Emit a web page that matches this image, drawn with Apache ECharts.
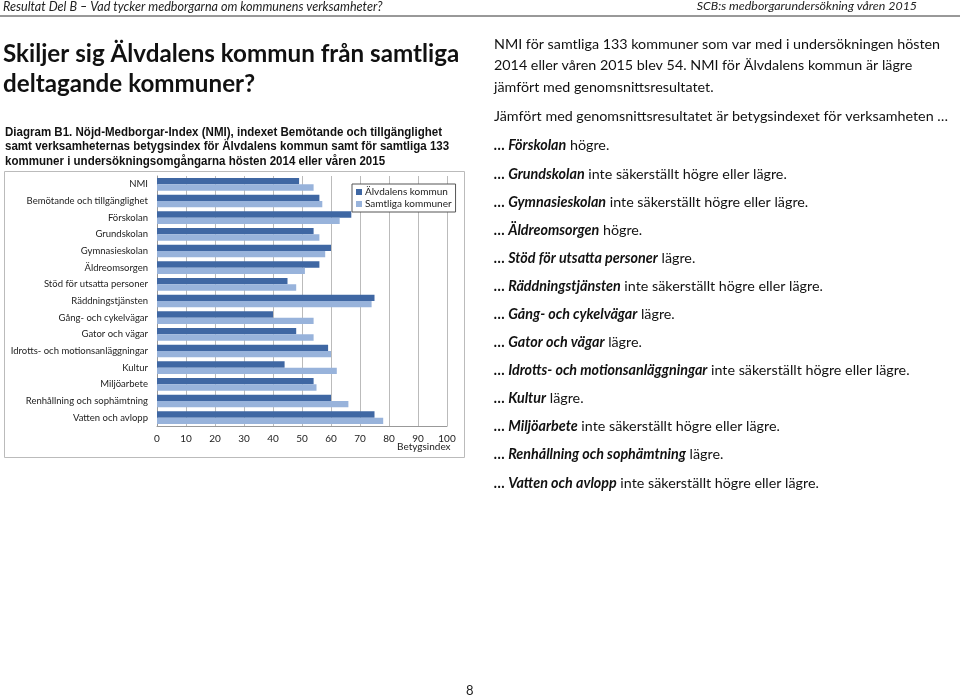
<!DOCTYPE html>
<html><head><meta charset="utf-8">
<script src="https://cdn.jsdelivr.net/npm/echarts@6/dist/echarts.min.js"></script>
<style>html,body{margin:0;padding:0;background:#fff}#c{width:960px;height:699px}</style>
</head><body><div id="c"></div>
<script>
const categories = ['NMI','Bemötande och tillgänglighet','Förskolan','Grundskolan','Gymnasieskolan','Äldreomsorgen','Stöd för utsatta personer','Räddningstjänsten','Gång- och cykelvägar','Gator och vägar','Idrotts- och motionsanläggningar','Kultur','Miljöarbete','Renhållning och sophämtning','Vatten och avlopp'];
const alvdalen = [49,56,67,54,60,56,45,75,40,48,59,44,54,60,75];
const samtliga = [54,57,63,56,58,51,48,74,54,54,60,62,55,66,78];
const seriesNames = ['Älvdalens kommun','Samtliga kommuner'];
const xTicks = [0,10,20,30,40,50,60,70,80,90,100];

const bodyFont = 'Lato';
const rightLines = [
  ['NMI för samtliga 133 kommuner som var med i undersökningen hösten', 45],
  ['2014 eller våren 2015 blev 54. NMI för Älvdalens kommun är lägre', 66],
  ['jämfört med genomsnittsresultatet.', 88],
  ['Jämfört med genomsnittsresultatet är betygsindexet för verksamheten …', 117],
  ['{b|… Förskolan} högre.', 146],
  ['{b|… Grundskolan} inte säkerställt högre eller lägre.', 175],
  ['{b|… Gymnasieskolan} inte säkerställt högre eller lägre.', 203],
  ['{b|… Äldreomsorgen} högre.', 231],
  ['{b|… Stöd för utsatta personer} lägre.', 259],
  ['{b|… Räddningstjänsten} inte säkerställt högre eller lägre.', 287],
  ['{b|… Gång- och cykelvägar} lägre.', 315],
  ['{b|… Gator och vägar} lägre.', 343],
  ['{b|… Idrotts- och motionsanläggningar} inte säkerställt högre eller lägre.', 371],
  ['{b|… Kultur} lägre.', 399],
  ['{b|… Miljöarbete} inte säkerställt högre eller lägre.', 427],
  ['{b|… Renhållning och sophämtning} lägre.', 455],
  ['{b|… Vatten och avlopp} inte säkerställt högre eller lägre.', 484]
];
const captionLines = ['Diagram B1. Nöjd-Medborgar-Index (NMI), indexet Bemötande och tillgänglighet','samt verksamheternas betygsindex för Älvdalens kommun samt för samtliga 133','kommuner i undersökningsomgångarna hösten 2014 eller våren 2015'];

const graphics = [];
// header
graphics.push({type:'text', left:3, top:0, style:{text:'Resultat Del B – Vad tycker medborgarna om kommunens verksamheter?', font:'italic 12.6px '+bodyFont, fill:'#222'}});
graphics.push({type:'text', right:43, top:0, style:{text:'SCB:s medborgarundersökning våren 2015', font:'italic 12.4px '+bodyFont, fill:'#222'}});
graphics.push({type:'line', shape:{x1:0,y1:16,x2:960,y2:16}, style:{stroke:'#333', lineWidth:1}});
// title
graphics.push({type:'text', left:3, top:42, style:{text:'Skiljer sig Älvdalens kommun från samtliga', font:'bold 24.2px '+bodyFont, fill:'#111'}});
graphics.push({type:'text', left:3, top:72, style:{text:'deltagande kommuner?', font:'bold 24.2px '+bodyFont, fill:'#111'}});
// caption (condensed Arial-like)
const capFont = 'bold 12.5px "Liberation Sans", Arial, sans-serif';
const mctx = document.createElement('canvas').getContext('2d');
mctx.font = capFont;
const capScale = 437 / mctx.measureText(captionLines[0]).width;
captionLines.forEach((t,i)=>graphics.push({type:'text', x:5, y:132.5+i*14.5, scaleX:capScale, style:{text:t, font:capFont, fill:'#111', textVerticalAlign:'middle'}}));
// right text
rightLines.forEach(([t,y])=>graphics.push({type:'text', left:494, top:y-8, style:{text:t, font:'14.3px '+bodyFont, fill:'#111', rich:{b:{font:'italic bold 14.3px '+bodyFont, fill:'#111'}}}}));
// chart border
graphics.push({type:'rect', shape:{x:4.5,y:171.5,width:460,height:286}, style:{fill:'none', stroke:'#bbb', lineWidth:1}, z:-1});
// axis name
graphics.push({type:'text', left:397, top:442, style:{text:'Betygsindex', font:'10px '+bodyFont, fill:'#222'}});
// page number
graphics.push({type:'text', left:466, top:684, style:{text:'8', font:'13px '+bodyFont, fill:'#222'}});

const chart = echarts.init(document.getElementById('c'));
chart.setOption({
  animation:false,
  textStyle:{fontFamily:bodyFont},
  grid:{left:157, right:513, top:176, height:250},
  legend:{orient:'vertical', left:352, top:184, itemWidth:6, itemHeight:6, itemGap:2, padding:[3,4,3,4],
    borderColor:'#555', borderWidth:1, backgroundColor:'#fff', textStyle:{fontSize:10, color:'#222', padding:[0,0,0,-2]},
    icon:'rect', data:seriesNames},
  xAxis:{type:'value', min:0, max:100, interval:10,
    axisLine:{show:true, lineStyle:{color:'#999'}}, axisTick:{show:false},
    axisLabel:{fontSize:10, color:'#222', margin:8},
    splitLine:{show:true, lineStyle:{color:'#bbb'}}},
  yAxis:{type:'category', data:categories, inverse:true,
    axisLine:{show:true, lineStyle:{color:'#999'}}, axisTick:{show:false},
    axisLabel:{fontSize:9.5, color:'#222', margin:9}},
  series:[
    {name:seriesNames[0], type:'bar', data:alvdalen, itemStyle:{color:'#3f67a3'}, barGap:'0%', barCategoryGap:'24%'},
    {name:seriesNames[1], type:'bar', data:samtliga, itemStyle:{color:'#98b3db'}}
  ],
  graphic:graphics
});
</script></body></html>
